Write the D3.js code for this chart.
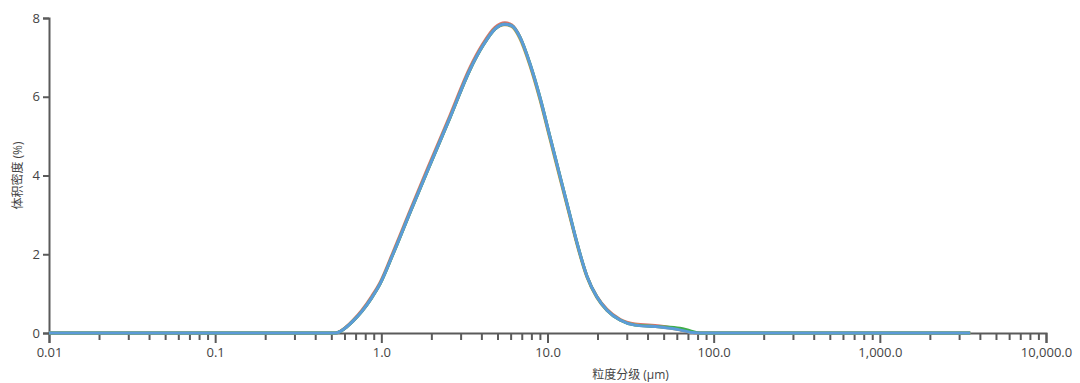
<!DOCTYPE html>
<html>
<head>
<meta charset="utf-8">
<script src="https://cdn.jsdelivr.net/npm/d3@7"></script>
<style>
  body { margin: 0; background: #fff; }
  text { font-family: "Open Sans", "Noto Sans CJK SC", sans-serif; }
</style>
</head>
<body>
<div class="canvas"></div>
<script>
// Data
const sizes = [0.01, 0.1, 0.5, 0.53, 0.604, 0.675, 0.764, 0.877, 0.981, 1.175, 1.486, 1.905, 2.59, 3.41,
  4.09, 4.83, 5.54, 6.11, 6.82, 7.83, 8.99, 10.33, 11.87, 13.64, 15.03, 17.26, 19.8, 22.8,
  27.3, 33.6, 47.5, 62.6, 71.9, 82.6, 100, 1000, 3500];

const blueVals = [0, 0, 0, 0, 0.12, 0.3, 0.55, 0.9, 1.24, 2.0, 3.05, 4.14, 5.47, 6.68,
  7.3, 7.72, 7.84, 7.8, 7.52, 6.85, 6.0, 5.0, 4.0, 3.0, 2.3, 1.45, 0.92, 0.58,
  0.33, 0.2, 0.15, 0.08, 0.02, 0, 0, 0, 0];
const redVals = [0, 0, 0, 0, 0.13, 0.32, 0.58, 0.94, 1.28, 2.05, 3.1, 4.2, 5.53, 6.74,
  7.35, 7.76, 7.88, 7.82, 7.52, 6.83, 5.97, 4.98, 3.98, 2.98, 2.29, 1.45, 0.93, 0.6,
  0.35, 0.23, 0.18, 0.09, 0.02, 0, 0, 0, 0];
const orangeVals = [0, 0, 0, 0, 0.12, 0.3, 0.55, 0.9, 1.24, 2.0, 3.05, 4.14, 5.47, 6.68,
  7.3, 7.72, 7.83, 7.78, 7.48, 6.8, 5.94, 4.94, 3.94, 2.95, 2.26, 1.42, 0.9, 0.57,
  0.33, 0.21, 0.16, 0.08, 0.02, 0, 0, 0, 0];
const greenVals = [0, 0, 0, 0, 0.12, 0.3, 0.55, 0.9, 1.24, 2.0, 3.05, 4.14, 5.47, 6.68,
  7.3, 7.72, 7.84, 7.8, 7.52, 6.85, 6.0, 5.0, 4.0, 3.0, 2.3, 1.45, 0.92, 0.58,
  0.33, 0.2, 0.16, 0.12, 0.06, 0, 0, 0, 0];

const seriesList = [
  {name: 'red', values: redVals, color: '#d9726b'},
  {name: 'orange', values: orangeVals, color: '#c9a15a'},
  {name: 'green', values: greenVals, color: '#3fae49'},
  {name: 'blue', values: blueVals, color: '#5b9bd8'}
];

const majorTicks = [0.01, 0.1, 1, 10, 100, 1000, 10000];
const yTicks = [0, 2, 4, 6, 8];

// Graph set up
const svgWidth = 1080;
const svgHeight = 383;
const margin = {top: 18, right: 34, bottom: 50, left: 49};
const graphWidth = svgWidth - margin.left - margin.right;
const graphHeight = svgHeight - margin.top - margin.bottom;

const svg = d3.select('.canvas')
  .append('svg')
  .attr('width', svgWidth)
  .attr('height', svgHeight);

const graph = svg.append('g')
  .attr('transform', `translate(${margin.left},${margin.top})`);

// Scales
const x = d3.scaleLog().domain([0.01, 10000]).range([0, graphWidth]);
const y = d3.scaleLinear().domain([0, 8]).range([graphHeight, 0]);

// minor ticks 2..9 in every decade
const minorTicks = [];
majorTicks.slice(0, -1).forEach(m => {
  for (let k = 2; k <= 9; k++) minorTicks.push(m * k);
});

const axisColor = '#5a5a5a';
const labelColor = '#444';

const fmt = d => d < 0.1 ? '0.01' : d < 1 ? '0.1' : d3.format(',.1f')(d);

const xMinor = graph.append('g')
  .attr('transform', `translate(0,${graphHeight})`)
  .call(d3.axisBottom(x).tickValues(minorTicks).tickSize(7).tickFormat(''));

const xMajor = graph.append('g')
  .attr('transform', `translate(0,${graphHeight})`)
  .call(d3.axisBottom(x).tickValues(majorTicks).tickSize(10).tickPadding(5).tickFormat(fmt));

const yAxisGroup = graph.append('g')
  .call(d3.axisLeft(y).tickValues(yTicks).tickSize(6).tickPadding(3).tickFormat(d3.format('d')));

[xMinor, xMajor, yAxisGroup].forEach(g => {
  g.select('.domain').attr('stroke', axisColor).attr('stroke-width', 2);
  g.selectAll('.tick line').attr('stroke', axisColor).attr('stroke-width', 2);
  g.selectAll('.tick text')
    .attr('fill', labelColor)
    .style('font-size', '13px');
});
xMinor.select('.domain').remove();

// Lines
const line = d3.line()
  .x((d, i) => x(sizes[i]))
  .y(d => y(d))
  .curve(d3.curveMonotoneX);

graph.selectAll('path.series')
  .data(seriesList)
  .enter()
  .append('path')
  .attr('class', 'series')
  .attr('fill', 'none')
  .attr('stroke', d => d.color)
  .attr('stroke-width', 3)
  .attr('stroke-linejoin', 'round')
  .attr('d', d => line(d.values));

// Axis titles
svg.append('text')
  .attr('x', margin.left + x(31.6))
  .attr('y', 379)
  .attr('text-anchor', 'middle')
  .attr('fill', labelColor)
  .style('font-size', '12px')
  .text('粒度分级 (µm)');

svg.append('text')
  .attr('transform', `translate(22,${margin.top + y(4)}) rotate(-90)`)
  .attr('text-anchor', 'middle')
  .attr('fill', labelColor)
  .style('font-size', '12px')
  .text('体积密度 (%)');
</script>
</body>
</html>
